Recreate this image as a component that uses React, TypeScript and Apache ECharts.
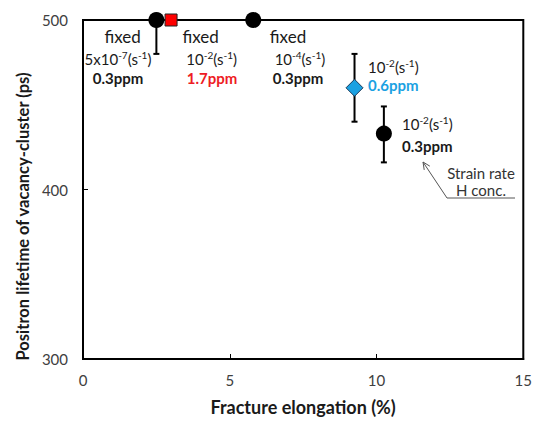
import React, { useEffect, useRef } from 'react';
import * as echarts from 'echarts';

const xTicks = [0, 5, 10, 15];
const yTicks = [300, 400, 500];
const blackX = [2.5, 5.8, 10.25];
const blackY = [500, 500, 433];
const redX = [3.0];
const redY = [500];
const blueX = [9.25];
const blueY = [460];
const errX = [2.5, 9.25, 10.25];
const errLo = [480, 440, 416];
const errHi = [500, 480, 449];

const FONT = 'Lato';

function supText(base: string, exp: string) {
  return `{n|${base}}{s|${exp}}{n|(s}{s|-1}{n|)}`;
}

const rich = {
  n: { fontSize: 15, lineHeight: 18, fontFamily: FONT, fill: '#1a1a1a' },
  s: { fontSize: 10, lineHeight: 10, verticalAlign: 'top', fontFamily: FONT, fill: '#1a1a1a' },
};

export default function App() {
  const ref = useRef<HTMLDivElement>(null);
  useEffect(() => {
    document.body.style.margin = '0';
    const chart = echarts.init(ref.current!, null, { renderer: 'svg' });
    const head = [423, 162];
    const tail = [447, 198];
    const dx = tail[0] - head[0];
    const dy = tail[1] - head[1];
    const len = Math.sqrt(dx * dx + dy * dy);
    const ux = dx / len, uy = dy / len;
    const a = (25 * Math.PI) / 180;
    const L = 8;
    const w1 = [head[0] + L * (ux * Math.cos(a) - uy * Math.sin(a)), head[1] + L * (ux * Math.sin(a) + uy * Math.cos(a))];
    const w2 = [head[0] + L * (ux * Math.cos(-a) - uy * Math.sin(-a)), head[1] + L * (ux * Math.sin(-a) + uy * Math.cos(-a))];

    const txt = (x: number, y: number, text: string, opts: any = {}) => ({
      type: 'text',
      x,
      y,
      z: 100,
      style: {
        text,
        fontFamily: FONT,
        fontSize: 14,
        fill: '#1a1a1a',
        align: 'center',
        verticalAlign: 'middle',
        ...opts,
      },
    });

    chart.setOption({
      animation: false,
      grid: {
        left: 83,
        right: 9,
        top: 20,
        bottom: 55,
        show: true,
        borderColor: '#000',
        borderWidth: 2,
        backgroundColor: 'transparent',
      },
      xAxis: {
        type: 'value',
        min: xTicks[0],
        max: xTicks[xTicks.length - 1],
        interval: 5,
        name: 'Fracture elongation (%)',
        nameLocation: 'middle',
        nameGap: 39,
        nameTextStyle: { fontFamily: FONT, fontSize: 18, fontWeight: 'bold', color: '#1a1a1a' },
        axisLine: { lineStyle: { color: '#000', width: 2 } },
        axisTick: { inside: true, length: 5, lineStyle: { color: '#000', width: 1 } },
        axisLabel: { fontFamily: FONT, fontSize: 15, color: '#404040', margin: 13 },
        splitLine: { show: false },
      },
      yAxis: {
        type: 'value',
        min: yTicks[0],
        max: yTicks[yTicks.length - 1],
        interval: 100,
        name: 'Positron lifetime of vacancy-cluster (ps)',
        nameLocation: 'middle',
        nameGap: 50,
        nameTextStyle: { fontFamily: FONT, fontSize: 16.5, fontWeight: 'bold', color: '#1a1a1a', padding: [0, 54, 0, 0] },
        axisLine: { lineStyle: { color: '#000', width: 2 } },
        axisTick: { inside: true, length: 5, lineStyle: { color: '#000', width: 1 } },
        axisLabel: { fontFamily: FONT, fontSize: 15, color: '#404040', margin: 15 },
        splitLine: { show: false },
      },
      series: [
        {
          type: 'custom',
          clip: true,
          z: 1,
          data: errX.map((x, i) => [x, errLo[i], errHi[i]]),
          encode: { x: 0, y: [1, 2] },
          renderItem: (params: any, api: any) => {
            const x = api.value(0);
            const p1 = api.coord([x, api.value(1)]);
            const p2 = api.coord([x, api.value(2)]);
            const cap = 3;
            const st = { stroke: '#000', lineWidth: 2 };
            return {
              type: 'group',
              children: [
                { type: 'line', shape: { x1: p1[0], y1: p1[1], x2: p2[0], y2: p2[1] }, style: st },
                { type: 'line', shape: { x1: p1[0] - cap, y1: p1[1], x2: p1[0] + cap, y2: p1[1] }, style: st },
                { type: 'line', shape: { x1: p2[0] - cap, y1: p2[1], x2: p2[0] + cap, y2: p2[1] }, style: st },
              ],
            };
          },
        },
        {
          type: 'scatter',
          clip: false,
          z: 5,
          symbol: 'circle',
          symbolSize: 16,
          itemStyle: { color: '#000', opacity: 1 },
          data: blackX.map((x, i) => [x, blackY[i]]),
        },
        {
          type: 'scatter',
          clip: false,
          z: 6,
          symbol: 'rect',
          symbolSize: 12,
          itemStyle: { color: '#ff0000', borderColor: '#222', borderWidth: 1, opacity: 1 },
          data: redX.map((x, i) => [x, redY[i]]),
        },
        {
          type: 'scatter',
          clip: false,
          z: 6,
          symbol: 'diamond',
          symbolSize: [17, 17],
          itemStyle: { color: '#1ba1e2', borderColor: '#1b3a5a', borderWidth: 1, opacity: 1 },
          data: blueX.map((x, i) => [x, blueY[i]]),
        },
      ],
      graphic: [
        txt(122.7, 36, 'fixed', { fontSize: 17 }),
        txt(200.7, 36, 'fixed', { fontSize: 17 }),
        txt(288, 36, 'fixed', { fontSize: 17 }),
        txt(118, 59, supText('5x10', '-7'), { rich }),
        txt(211.7, 59, supText('10', '-2'), { rich }),
        txt(300, 59, supText('10', '-4'), { rich }),
        txt(118, 78, '0.3ppm', { fontSize: 15, fontWeight: 'bold' }),
        txt(212, 78, '1.7ppm', { fontSize: 15, fontWeight: 'bold', fill: '#ee1c24' }),
        txt(298, 78, '0.3ppm', { fontSize: 15, fontWeight: 'bold' }),
        txt(368, 67, supText('10', '-2'), { rich, align: 'left' }),
        txt(368, 85, '0.6ppm', { fontSize: 15, fontWeight: 'bold', fill: '#1ba1e2', align: 'left' }),
        txt(402, 124, supText('10', '-2'), { rich, align: 'left' }),
        txt(402, 146, '0.3ppm', { fontSize: 15, fontWeight: 'bold', align: 'left' }),
        txt(481, 173, 'Strain rate', { fill: '#333', fontSize: 15 }),
        txt(481, 190, 'H conc.', { fill: '#333', fontSize: 15 }),
        {
          type: 'polyline',
          z: 100,
          shape: { points: [head, tail, [515, 198]] },
          style: { stroke: '#555', lineWidth: 1, fill: null },
        },
        {
          type: 'polyline',
          z: 100,
          shape: { points: [w1, head, w2] },
          style: { stroke: '#555', lineWidth: 1, fill: null },
        },
      ],
    });
    return () => chart.dispose();
  }, []);
  return <div ref={ref} style={{ width: 535, height: 421 }} />;
}
